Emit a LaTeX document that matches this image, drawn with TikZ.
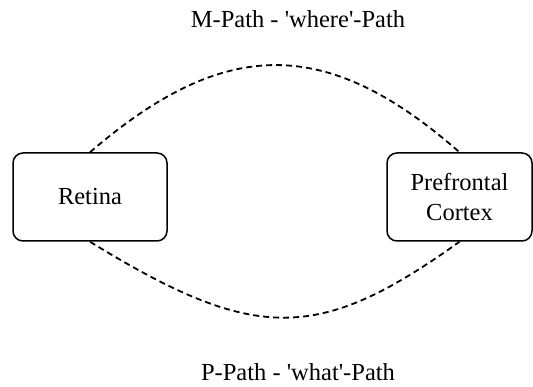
\documentclass[tikz,border=0pt]{standalone}
\usepackage{fontspec}
\setmainfont{Liberation Serif}
\begin{document}
\begin{tikzpicture}[x=1pt,y=-1pt,
  box/.style={draw, line width=1.5pt, rounded corners=10pt, inner sep=0pt,
    minimum height=88pt, align=center, font=\fontsize{24.5}{30}\selectfont},
  pathline/.style={dash pattern=on 6pt off 4pt, line width=1.8pt},
  lbl/.style={font=\fontsize{24.5}{30}\selectfont, anchor=base, inner sep=0pt}]
\useasboundingbox (0,0) rectangle (533,387);
% the two stations
\node[box, minimum width=154pt] (retina) at (90,197) {Retina};
\node[box, minimum width=145pt] (pfc) at (459.5,197) {Prefrontal\\Cortex};
% pathway names
\node[lbl] (mpath) at (298,28) {M-Path - \textquotesingle where\textquotesingle-Path};
\node[lbl] (ppath) at (298,381) {P-Path - \textquotesingle what\textquotesingle-Path};
% dashed pathways
\draw[pathline] (retina.north) .. controls (225,36) and (327,36) .. (pfc.north);
\draw[pathline] (retina.south) .. controls (255,343) and (318,343) .. (pfc.south);
\end{tikzpicture}
\end{document}
